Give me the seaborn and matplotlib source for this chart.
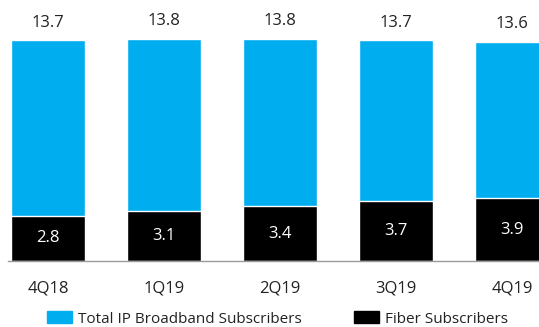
import matplotlib
matplotlib.use("Agg")
import matplotlib.pyplot as plt
import seaborn as sns
import pandas as pd
from matplotlib.patches import Patch

quarters = ["4Q18", "1Q19", "2Q19", "3Q19", "4Q19"]
total_ip = [13.7, 13.8, 13.8, 13.7, 13.6]
fiber = [2.8, 3.1, 3.4, 3.7, 3.9]

CYAN = "#00AEEF"
BLACK = "#000000"

sns.set_theme(style="white")
plt.rcParams["font.family"] = ["Open Sans", "DejaVu Sans"]

df = pd.DataFrame({"quarter": quarters, "total": total_ip, "fiber": fiber})

fig = plt.figure(figsize=(5.39, 3.27), dpi=100)
ax = fig.add_axes([8 / 539, (327 - 261) / 327, (539 - 8) / 539, 261 / 327])

sns.barplot(data=df, x="quarter", y="total", color=CYAN, width=0.64,
            saturation=1, ax=ax, order=quarters)
sns.barplot(data=df, x="quarter", y="fiber", color=BLACK, width=0.64,
            saturation=1, ax=ax, order=quarters)

ax.set_xlim(-0.345, 4.233)
ax.set_ylim(0, 16.2)

for i, (t, f) in enumerate(zip(total_ip, fiber)):
    ax.annotate(f"{t:.1f}", (i, t), xytext=(0, 7), textcoords="offset points",
                ha="center", va="bottom", fontsize=12, color="#222222")
    ax.text(i, f / 2, f"{f:.1f}", ha="center", va="center",
            fontsize=12, color="white")

for s in ["top", "right", "left"]:
    ax.spines[s].set_visible(False)
ax.spines["bottom"].set_color("#9a9a9a")
ax.spines["bottom"].set_linewidth(1.0)
ax.set_yticks([])
ax.set_xlabel("")
ax.set_ylabel("")
ax.tick_params(axis="x", length=0, pad=14, labelsize=12, labelcolor="#222222")

handles = [Patch(color=CYAN, label="Total IP Broadband Subscribers"),
           Patch(color=BLACK, label="Fiber Subscribers")]
fig.legend(handles=handles, loc="center", bbox_to_anchor=(0.515, 8 / 327),
           ncol=2, frameon=False, fontsize=11, handlelength=1.65,
           handleheight=0.8, handletextpad=0.4, columnspacing=3.4,
           labelcolor="#222222")

fig.savefig("out.png", dpi=100)
